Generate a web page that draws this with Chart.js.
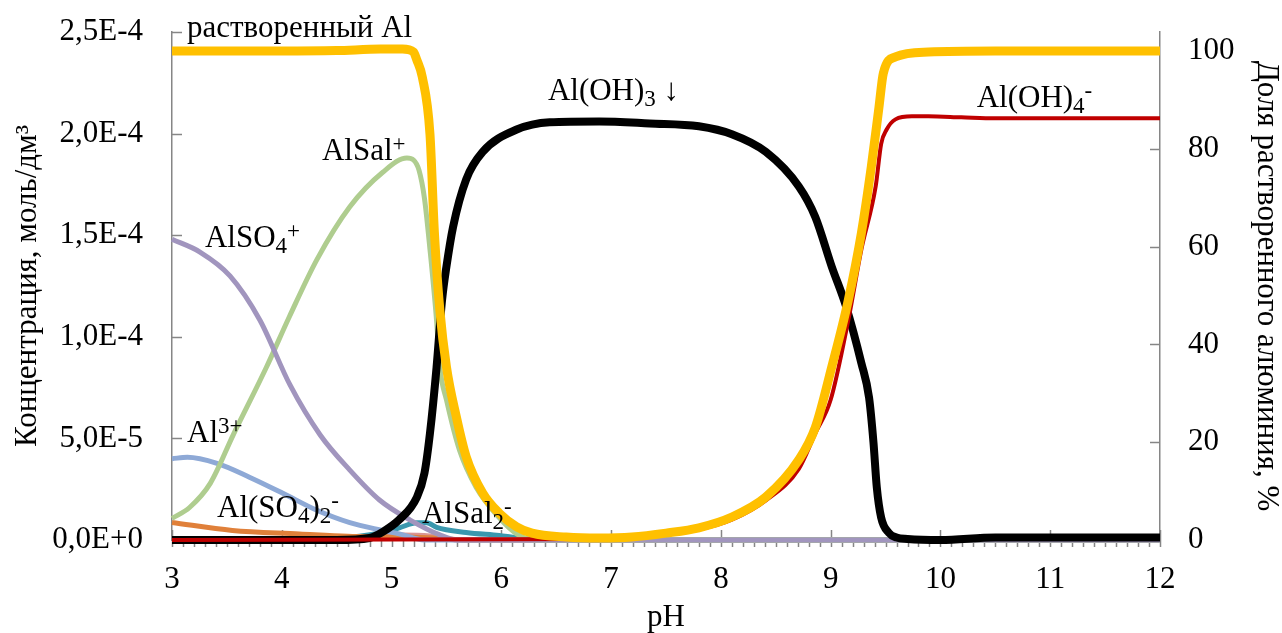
<!DOCTYPE html>
<html><head><meta charset="utf-8">
<script src="https://cdn.jsdelivr.net/npm/chart.js@4.4.1/dist/chart.umd.min.js"></script>
<style>html,body{margin:0;padding:0;background:#fff}canvas{display:block}</style>
</head><body>
<canvas id="c" width="1282" height="633"></canvas>
<script>
const FONT = "'Liberation Serif','Times New Roman',serif";

// ---- axes ----
const xMajorTicks = [3,4,5,6,7,8,9,10,11,12];
const yLeftTicks = [0,5,10,15,20,25];               // units of 1E-5 mol/dm3
const yLeftTickLabels = ['0,0E+0','5,0E-5','1,0E-4','1,5E-4','2,0E-4','2,5E-4'];
const yRightTicks = [0,20,40,60,80,100];

// ---- series (pH, value) ----
// dissolved Al, % (right axis)
const dissPH  = [3,3.5,4,4.5,4.9,5.1,5.2,5.23,5.28,5.35,5.39,5.44,5.5,5.59,5.68,5.83,5.98,6.14,6.28,6.59,6.89,7.19,7.5,7.8,8.1,8.41,8.71,8.86,9.01,9.16,9.28,9.37,9.44,9.48,9.59,9.89,10.5,12];
const dissVal = [100,100,100,100.1,100.4,100.4,99.8,98.2,94.7,83,63,47,35.4,25.2,17,9.6,5.5,2.7,1.4,0.6,0.4,0.6,1.4,2.5,4.7,8.8,16.4,23,35.4,49,62.8,76.3,88.5,95.5,98.8,99.8,100,100];
// Al(OH)3, 1E-5 mol/dm3
const ohPH  = [3,4.5,4.8,4.92,5.07,5.23,5.3,5.35,5.41,5.46,5.5,5.56,5.68,5.83,6.14,6.44,6.89,7.35,7.8,8.1,8.41,8.71,8.86,9.01,9.14,9.28,9.35,9.39,9.42,9.46,9.53,9.6,9.7,10,10.5,12];
const ohVal = [0,0,0.1,0.4,1.0,2.1,3.3,5.26,8.5,11.8,13.45,15.4,17.75,19.1,20.2,20.56,20.6,20.5,20.36,19.97,19.1,17.4,15.9,13.45,11.5,8.7,7.0,4.8,2.6,1.1,0.35,0.12,0.05,0,0.12,0.12];
// Al(OH)4-
const oh4PH  = [3,7,7.5,7.8,8.1,8.41,8.71,8.86,9.0,9.16,9.28,9.41,9.46,9.51,9.59,9.74,9.89,10.19,10.5,12];
const oh4Val = [0,0.05,0.3,0.52,1.0,1.95,3.5,5.25,6.9,10.8,14.3,17.4,19.5,20.2,20.7,20.85,20.85,20.8,20.75,20.75];
// AlSal+
const salPH  = [3,3.16,3.35,3.56,3.86,4.07,4.32,4.62,4.92,5.14,5.2,5.25,5.3,5.35,5.41,5.44,5.5,5.62,5.77,5.98,6.14,6.3,12];
const salVal = [1.06,1.6,2.8,5.2,8.5,11,13.8,16.4,18.1,18.8,18.7,18.2,16.8,14.3,10.8,8.5,6.9,4.4,2.6,1.1,0.3,0,0];
// AlSO4+
const so4PH  = [3,3.255,3.528,3.8,4.075,4.35,4.62,4.89,5.17,5.44,5.6,12];
const so4Val = [14.8,14.17,13.0,10.83,7.63,5.17,3.44,1.97,0.98,0.25,0,0];
// Al3+
const al3PH  = [3,3.14,3.41,3.71,4.01,4.32,4.62,4.92,5.07,5.3,12];
const al3Val = [4.0,4.07,3.77,3.08,2.3,1.46,0.85,0.47,0.3,0,0];
// Al(SO4)2-
const so42PH  = [3,3.55,4.16,4.6,5.0,5.4,5.7,12];
const so42Val = [0.86,0.47,0.3,0.18,0.15,0.1,0,0];
// pink minor species
const pinkPH  = [3,4,4.8,5.1,5.35,5.6,12];
const pinkVal = [0.05,0.08,0.18,0.25,0.2,0,0];
// AlSal2-
const sal2PH  = [3,4.0,4.46,4.92,5.07,5.23,5.32,5.41,5.68,5.98,6.14,6.4,12];
const sal2Val = [0,0.02,0.07,0.37,0.6,0.85,0.85,0.62,0.37,0.22,0.12,0,0];

// ---- annotation labels ----
const labelTexts = [
  [['растворенный Al','n']],
  [['AlSal','n'],['+','sup']],
  [['AlSO','n'],['4','sub'],['+','sup']],
  [['Al','n'],['3+','sup']],
  [['Al(SO','n'],['4','sub'],[')','n'],['2','sub'],['-','sup']],
  [['AlSal','n'],['2','sub'],['-','sup']],
  [['Al(OH)','n'],['3','sub'],[' ↓','n']],
  [['Al(OH)','n'],['4','sub'],['-','sup']]
];
const labelPH  = [3.137,4.366,3.30,3.137,3.41,5.277,6.424,10.33];
const labelVal = [24.75,18.7,14.42,4.82,1.13,0.84,21.65,21.3];

function pts(xs, ys){ return xs.map((x,i)=>({x:x, y:ys[i]})); }
function ds(label, xs, ys, color, width, axis){
  return {label, data: pts(xs,ys), borderColor: color, backgroundColor: color,
    borderWidth: width, pointRadius: 0, fill: false, yAxisID: axis,
    cubicInterpolationMode: 'monotone', clip: false,
    borderJoinStyle: 'round', borderCapStyle: 'butt'};
}

const AXIS = '#868686';

const decoPlugin = {
  id: 'deco',
  beforeDatasetsDraw(chart){
    const ctx = chart.ctx, a = chart.chartArea;
    const x = chart.scales.x, yl = chart.scales.y, yr = chart.scales.y2;
    ctx.save();
    ctx.strokeStyle = AXIS; ctx.lineWidth = 1.5;
    ctx.beginPath();
    yLeftTicks.forEach(v=>{ const p = Math.round(yl.getPixelForValue(v))+0.5; ctx.moveTo(a.left, p); ctx.lineTo(a.left+10, p); });
    yRightTicks.forEach(v=>{ const p = Math.round(yr.getPixelForValue(v))+0.5; ctx.moveTo(a.right-10, p); ctx.lineTo(a.right, p); });
    xMajorTicks.forEach(v=>{ const p = Math.round(x.getPixelForValue(v))+0.5; ctx.moveTo(p, a.bottom-10); ctx.lineTo(p, a.bottom+7); });
    for (let i = 30; i <= 120; i++) {
      const p = Math.round(x.getPixelForValue(i/10))+0.5;
      ctx.moveTo(p, a.bottom); ctx.lineTo(p, a.bottom+7);
    }
    ctx.stroke();
    ctx.restore();
  },
  afterDraw(chart){
    const ctx = chart.ctx;
    const x = chart.scales.x, yl = chart.scales.y;
    const size = 31, small = 23;
    ctx.save();
    ctx.fillStyle = '#000';
    ctx.textBaseline = 'alphabetic';
    ctx.textAlign = 'left';
    labelTexts.forEach((segs, i)=>{
      let px = x.getPixelForValue(labelPH[i]);
      const py = yl.getPixelForValue(labelVal[i]);
      segs.forEach(([t, kind])=>{
        let dy = 0, fs = size;
        if (kind === 'sub') { fs = small; dy = 6; }
        else if (kind === 'sup') { fs = small; dy = -9; }
        ctx.font = fs + 'px ' + FONT;
        ctx.fillText(t, px, py + dy);
        px += ctx.measureText(t).width;
      });
    });
    ctx.restore();
  }
};

function noVPad(s){ s.paddingTop = 0; s.paddingBottom = 0; }

new Chart(document.getElementById('c'), {
  type: 'line',
  data: { datasets: [
    ds('растворенный Al', dissPH, dissVal, '#FFC000', 9, 'y2'),
    ds('Al(OH)4-', oh4PH, oh4Val, '#C00000', 4, 'y'),
    ds('Al(OH)3', ohPH, ohVal, '#000000', 8, 'y'),
    ds('AlSO4+', so4PH, so4Val, '#A195BE', 5, 'y'),
    ds('AlSal+', salPH, salVal, '#AFCD8F', 5, 'y'),
    ds('Al3+', al3PH, al3Val, '#8EA9D6', 5, 'y'),
    ds('Al(SO4)2-', so42PH, so42Val, '#E0803A', 5, 'y'),
    ds('AlSal2-', sal2PH, sal2Val, '#3A98AE', 5, 'y'),
    ds('прочие', pinkPH, pinkVal, '#D99594', 5, 'y')
  ]},
  options: {
    responsive: false, animation: false, devicePixelRatio: 1,
    layout: { padding: { top: 32, left: 0, right: 0, bottom: 0 } },
    plugins: { legend: { display: false }, tooltip: { enabled: false } },
    scales: {
      x: {
        type: 'linear', min: 3, max: 12,
        afterBuildTicks: s => { s.ticks = xMajorTicks.map(v=>({value:v})); },
        afterFit: s => { s.height = 93; s.paddingLeft = 0; s.paddingRight = 0; },
        grid: { display: false, drawTicks: false },
        border: { display: true, color: AXIS, width: 1.5 },
        ticks: { color: '#000', font: { family: FONT, size: 31 }, padding: 21, maxRotation: 0 },
        title: { display: true, text: 'pH', color: '#000', font: { family: FONT, size: 31 }, padding: { top: 0, bottom: -3 } }
      },
      y: {
        position: 'left', min: 0, max: 25,
        afterBuildTicks: s => { s.ticks = yLeftTicks.map(v=>({value:v})); },
        afterFit: s => { s.width = 172; noVPad(s); },
        grid: { display: false, drawTicks: false },
        border: { display: true, color: AXIS, width: 1.5 },
        ticks: { color: '#000', font: { family: FONT, size: 31 }, padding: 29,
          callback: (v) => { const i = yLeftTicks.indexOf(v); return i >= 0 ? yLeftTickLabels[i] : ''; } },
        title: { display: true, text: 'Концентрация, моль/дм³', color: '#000', font: { family: FONT, size: 31 }, padding: { top: 9, bottom: 0 } }
      },
      y2: {
        position: 'right', min: 0, max: 103.9,
        afterBuildTicks: s => { s.ticks = yRightTicks.map(v=>({value:v})); },
        afterFit: s => { s.width = 122; noVPad(s); },
        grid: { display: false, drawTicks: false },
        border: { display: true, color: AXIS, width: 1.5 },
        ticks: { color: '#000', font: { family: FONT, size: 31 }, padding: 28 },
        title: { display: true, text: 'Доля растворенного алюминия, %', color: '#000', font: { family: FONT, size: 31 }, padding: { top: -3, bottom: 0 } }
      }
    }
  },
  plugins: [decoPlugin]
});
</script>
</body></html>
